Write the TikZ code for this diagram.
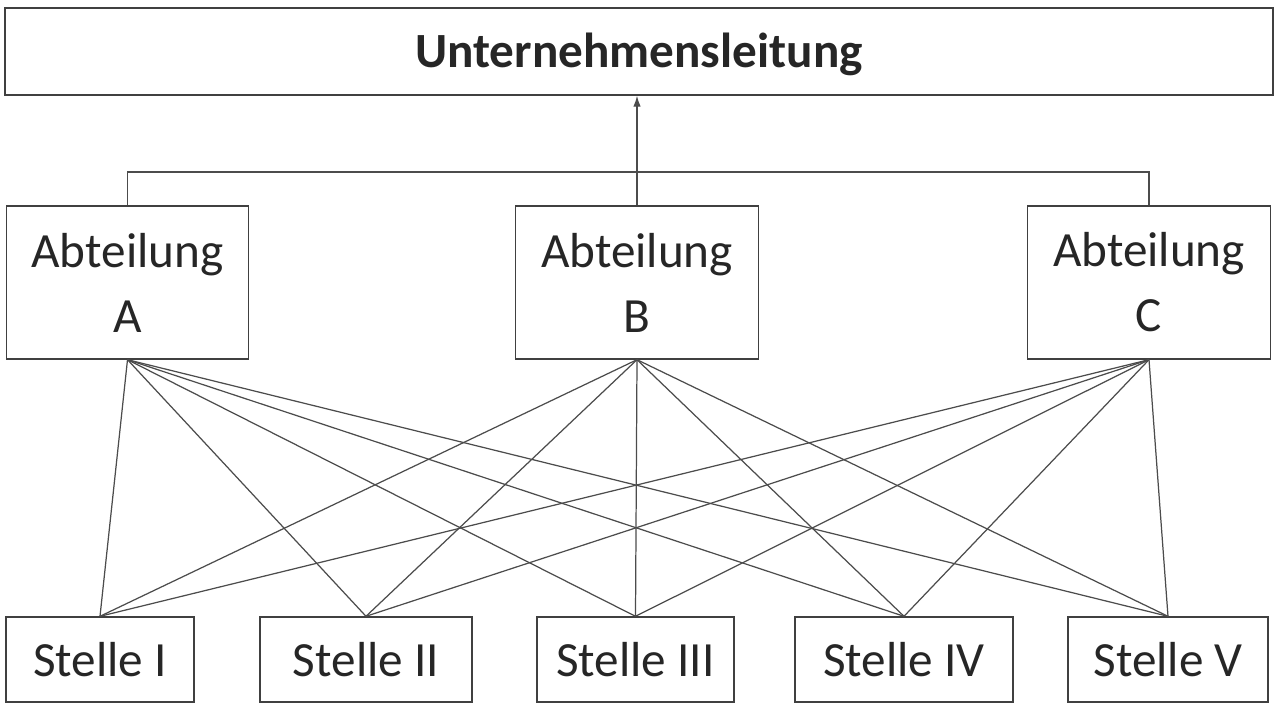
\documentclass[tikz,border=0pt]{standalone}
\usepackage{fontspec}
\setmainfont{Carlito}
\usepackage{tikz}
\usetikzlibrary{arrows,arrows.meta}

\begin{document}
\begin{tikzpicture}[line width=0.8pt,
  box/.style={draw=black!75, text=black!85, minimum height=1.7cm, font=\fontsize{28}{37}\selectfont, inner sep=0pt},
  abt/.style={box, minimum width=4.85cm, minimum height=3.06cm, align=center},
  link/.style={draw=black!70, line width=0.7pt}]
\useasboundingbox (0,0) rectangle (25.6,14.4);
%%%%% Leitung %%%%%
\node[box, minimum width=25.36cm, minimum height=1.74cm, text depth=0.04cm, font=\fontsize{28}{37}\selectfont\bfseries] (leitung) at (12.78,13.37) {Unternehmensleitung};
%%%%% Abteilungen %%%%%
\node[abt] (abtA) at (2.55,8.75) {Abteilung\\A};
\node[abt] (abtB) at (12.74,8.75) {Abteilung\\B};
\node[abt] (abtC) at (22.98,8.75) {Abteilung\\C};
\coordinate (bus) at (12.74,10.96);
\draw[link] (abtA.north) -- (abtA.north |- bus) -- (abtC.north |- bus) -- (abtC.north);
\draw[link,-{Latex[length=2.2mm,width=1.5mm]}] (abtB.north) -- (abtB.north |- leitung.south);
%%%%% Stellen %%%%%
\node[box, minimum width=3.76cm] (st1) at (2.0,1.21) {Stelle I};
\node[box, minimum width=4.24cm] (st2) at (7.32,1.21) {Stelle II};
\node[box, minimum width=3.94cm] (st3) at (12.71,1.21) {Stelle III};
\node[box, minimum width=4.36cm] (st4) at (18.08,1.21) {Stelle IV};
\node[box, minimum width=4.0cm] (st5) at (23.36,1.21) {Stelle V};
\foreach \a in {abtA,abtB,abtC}{
\foreach \s in {st1,st2,st3,st4,st5}{
\draw[link] (\a.south) -- (\s.north);
}
}
\end{tikzpicture}
\end{document}
